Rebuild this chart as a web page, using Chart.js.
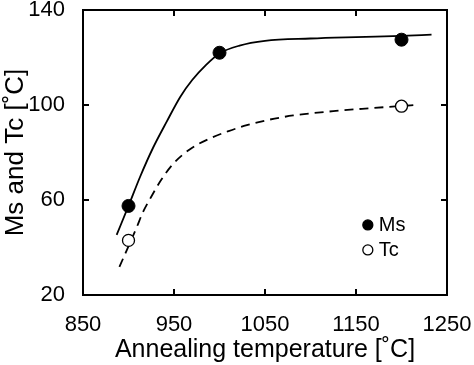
<!DOCTYPE html>
<html>
<head>
<meta charset="utf-8">
<script src="https://cdn.jsdelivr.net/npm/chart.js@4/dist/chart.umd.min.js"></script>
<style>
  html, body { margin: 0; padding: 0; background: #fff; }
  #wrap { width: 474px; height: 365px; }
</style>
</head>
<body>
<div id="wrap"><canvas id="myChart" width="474" height="365"></canvas></div>
<script>
// measured points
const msTemps = [900, 1000, 1200];
const msValues = [57.5, 122, 127.5];
const tcTemps = [900, 1200];
const tcValues = [43, 99.5];

// fitted curves
const msFitTemps = [887, 900, 913, 927, 942, 957, 970, 985, 1000, 1022, 1050, 1100, 1150, 1200, 1233];
const msFitValues = [45.3, 57.5, 70, 82, 93, 103.5, 110.5, 116.8, 121.7, 125, 127, 128, 128.6, 129.1, 129.6];
const tcFitTemps = [890, 909, 916, 924, 936, 949, 968, 990, 1010, 1030, 1052, 1081, 1125, 1160, 1200, 1218];
const tcFitValues = [31.8, 48.5, 55, 60.7, 68.5, 75.2, 81.5, 86, 89, 91.5, 93.6, 95.6, 97.4, 98.5, 99.6, 100.1];

const xTicks = [850, 950, 1050, 1150, 1250];
const yTicks = [20, 60, 100, 140];

const toXY = (xs, ys) => xs.map((x, i) => ({ x: x, y: ys[i] }));
const FONT = 'Liberation Sans, Arial, sans-serif';

// box, inward ticks on all four sides, and the legend inside the plot
const frame = {
  id: 'frame',
  afterDraw(chart) {
    const ctx = chart.ctx;
    const a = chart.chartArea;
    const xs = chart.scales.x, ys = chart.scales.y;
    ctx.save();
    ctx.strokeStyle = '#000';
    ctx.lineWidth = 2;
    ctx.strokeRect(a.left, a.top, a.right - a.left, a.bottom - a.top);
    ctx.beginPath();
    xTicks.forEach(v => {
      const px = xs.getPixelForValue(v);
      ctx.moveTo(px, a.bottom); ctx.lineTo(px, a.bottom - 6);
      ctx.moveTo(px, a.top); ctx.lineTo(px, a.top + 6);
    });
    yTicks.forEach(v => {
      const py = ys.getPixelForValue(v);
      ctx.moveTo(a.left, py); ctx.lineTo(a.left + 6, py);
      ctx.moveTo(a.right, py); ctx.lineTo(a.right - 6, py);
    });
    ctx.stroke();

    // legend
    const items = chart.data.datasets.filter(d => d.inLegend);
    let ly = ys.getPixelForValue(49.5);
    const lx = xs.getPixelForValue(1163);
    ctx.font = '20px ' + FONT;
    ctx.textBaseline = 'middle';
    items.forEach(d => {
      ctx.beginPath();
      ctx.arc(lx, ly, 5, 0, Math.PI * 2);
      ctx.fillStyle = d.pointBackgroundColor;
      ctx.fill();
      ctx.lineWidth = 1.3;
      ctx.strokeStyle = '#000';
      ctx.stroke();
      ctx.fillStyle = '#000';
      ctx.fillText(d.label, lx + 11, ly + 1);
      ly += 25;
    });
    ctx.restore();
  }
};

new Chart(document.getElementById('myChart').getContext('2d'), {
  type: 'scatter',
  data: {
    datasets: [
      {
        label: 'Ms fit',
        data: toXY(msFitTemps, msFitValues),
        showLine: true,
        borderColor: '#000',
        borderWidth: 1.8,
        pointRadius: 0,
        cubicInterpolationMode: 'monotone',
        order: 3
      },
      {
        label: 'Tc fit',
        data: toXY(tcFitTemps, tcFitValues),
        showLine: true,
        borderColor: '#000',
        borderWidth: 1.8,
        borderDash: [9, 6],
        pointRadius: 0,
        cubicInterpolationMode: 'monotone',
        order: 3
      },
      {
        label: 'Ms',
        inLegend: true,
        data: toXY(msTemps, msValues),
        pointRadius: 6.5,
        pointBackgroundColor: '#000',
        pointBorderColor: '#000',
        pointBorderWidth: 1,
        order: 1
      },
      {
        label: 'Tc',
        inLegend: true,
        data: toXY(tcTemps, tcValues),
        pointRadius: 6,
        pointBackgroundColor: '#fff',
        pointBorderColor: '#000',
        pointBorderWidth: 1.3,
        order: 1
      }
    ]
  },
  options: {
    responsive: false,
    animation: false,
    layout: { padding: { top: 10, right: 27, left: 0, bottom: 0 } },
    plugins: { legend: { display: false }, tooltip: { enabled: false } },
    scales: {
      x: {
        type: 'linear',
        min: 850, max: 1250,
        afterBuildTicks: s => { s.ticks = xTicks.map(v => ({ value: v })); },
        afterFit: s => { s.height = 70; s.paddingLeft = 0; s.paddingRight = 0; },
        grid: { display: false },
        border: { display: false },
        ticks: {
          color: '#000', font: { family: FONT, size: 22 }, padding: 9, maxRotation: 0,
          callback: v => String(v)
        },
        title: {
          display: true,
          text: 'Annealing temperature [˚C]',
          color: '#000',
          font: { family: FONT, size: 25 },
          padding: { top: 2, bottom: 0 }
        }
      },
      y: {
        type: 'linear',
        min: 20, max: 140,
        afterBuildTicks: s => { s.ticks = yTicks.map(v => ({ value: v })); },
        afterFit: s => { s.width = 83; s.paddingTop = 0; s.paddingBottom = 0; },
        grid: { display: false },
        border: { display: false },
        ticks: {
          color: '#000', font: { family: FONT, size: 22 }, padding: 10,
          callback: v => String(v)
        },
        title: {
          display: true,
          text: 'Ms and Tc [˚C]',
          color: '#000',
          font: { family: FONT, size: 26 },
          padding: { top: 0, bottom: 0 }
        }
      }
    }
  },
  plugins: [frame]
});
</script>
</body>
</html>
